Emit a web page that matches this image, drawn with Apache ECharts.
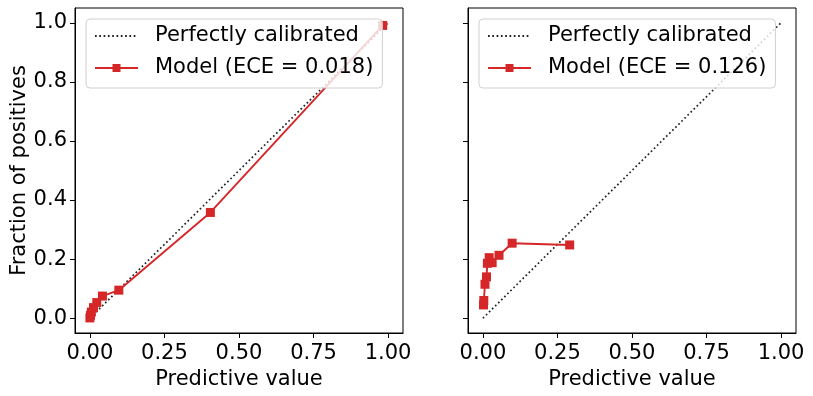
<!DOCTYPE html>
<html>
<head>
<meta charset="utf-8">
<script src="https://cdn.jsdelivr.net/npm/echarts@6/dist/echarts.min.js"></script>
<style>
html,body{margin:0;padding:0;background:#fff;}
#chart{width:813px;height:396px;}
</style>
</head>
<body>
<div id="chart"></div>
<script>
// ---- data ----
const xTicks = [0, 0.25, 0.5, 0.75, 1.0];
const yTicks = [0, 0.2, 0.4, 0.6, 0.8, 1.0];
const diagX = [0, 1];
const diagY = [0, 1];
const leftX = [0.0, 0.002, 0.005, 0.012, 0.023, 0.042, 0.097, 0.404, 0.982];
const leftY = [0.001, 0.010, 0.021, 0.036, 0.053, 0.075, 0.095, 0.358, 0.991];
const rightX = [0.002, 0.003, 0.007, 0.012, 0.015, 0.021, 0.031, 0.054, 0.098, 0.291];
const rightY = [0.045, 0.060, 0.115, 0.140, 0.186, 0.205, 0.188, 0.213, 0.254, 0.248];
const refName = 'Perfectly calibrated';
const leftName = 'Model (ECE = 0.018)';
const rightName = 'Model (ECE = 0.126)';
const xTitle = 'Predictive value';
const yTitle = 'Fraction of positives';

const zip = (a, b) => a.map((v, i) => [v, b[i]]);
const FONT = 'DejaVu Sans';
const FS = 21;
const RED = '#d62728';

function xAxis(idx) {
  return {
    gridIndex: idx, type: 'value', min: -0.05, max: 1.05,
    name: xTitle, nameLocation: 'middle', nameGap: 33,
    nameTextStyle: {fontFamily: FONT, fontSize: FS, color: '#000'},
    axisLine: {show: true, onZero: false, lineStyle: {color: '#000', width: 1}},
    axisTick: {show: true, inside: false, length: 5, customValues: xTicks, lineStyle: {color: '#000', width: 1}},
    axisLabel: {show: true, customValues: xTicks, margin: 10, fontFamily: FONT, fontSize: FS, color: '#000',
      formatter: v => v.toFixed(2)},
    splitLine: {show: false}
  };
}
function yAxis(idx, labels) {
  return {
    gridIndex: idx, type: 'value', min: -0.05, max: 1.05,
    name: labels ? yTitle : '', nameLocation: 'middle', nameGap: 45,
    nameTextStyle: {fontFamily: FONT, fontSize: FS, color: '#000'},
    axisLine: {show: true, onZero: false, lineStyle: {color: '#000', width: 1}},
    axisTick: {show: true, inside: false, length: 5, customValues: yTicks, lineStyle: {color: '#000', width: 1}},
    axisLabel: {show: labels, customValues: yTicks, margin: 8, fontFamily: FONT, fontSize: FS, color: '#000',
      formatter: v => v.toFixed(1)},
    splitLine: {show: false}
  };
}
function legend(left, name) {
  return {
    orient: 'vertical', left: left, top: 19,
    data: [{name: refName, itemStyle: {opacity: 0}}, {name: name}],
    itemWidth: 43, itemHeight: 10, itemGap: 8,
    padding: [5, 9, 8, 8],
    backgroundColor: 'rgba(255,255,255,0.8)',
    borderColor: '#d0d0d0', borderWidth: 1, borderRadius: 4,
    textStyle: {fontFamily: FONT, fontSize: FS, color: '#000', lineHeight: 24, padding: [0, 0, 0, 12]},
    selectedMode: false
  };
}

const chart = echarts.init(document.getElementById('chart'));
chart.setOption({
  backgroundColor: '#fff',
  animation: false,
  grid: [
    {left: 75, top: 8, width: 328, height: 325, show: true, borderColor: '#000', borderWidth: 1, backgroundColor: 'transparent'},
    {left: 468, top: 8, width: 328, height: 325, show: true, borderColor: '#000', borderWidth: 1, backgroundColor: 'transparent'}
  ],
  xAxis: [xAxis(0), xAxis(1)],
  yAxis: [yAxis(0, true), yAxis(1, false)],
  legend: [legend(86, leftName), legend(479, rightName)],
  series: [
    {name: refName, type: 'line', xAxisIndex: 0, yAxisIndex: 0, data: zip(diagX, diagY), symbol: 'none',
      lineStyle: {color: '#222', width: 1.7, type: [1.7, 2.6]}, itemStyle: {color: '#000'}, z: 2},
    {name: leftName, type: 'line', xAxisIndex: 0, yAxisIndex: 0, data: zip(leftX, leftY), symbol: 'rect', symbolSize: 9,
      lineStyle: {color: RED, width: 1.9}, itemStyle: {color: RED}, z: 3},
    {name: refName, type: 'line', xAxisIndex: 1, yAxisIndex: 1, data: zip(diagX, diagY), symbol: 'none',
      lineStyle: {color: '#222', width: 1.7, type: [1.7, 2.6]}, itemStyle: {color: '#000'}, z: 2},
    {name: rightName, type: 'line', xAxisIndex: 1, yAxisIndex: 1, data: zip(rightX, rightY), symbol: 'rect', symbolSize: 9,
      lineStyle: {color: RED, width: 1.9}, itemStyle: {color: RED}, z: 3}
  ]
});
</script>
</body>
</html>
